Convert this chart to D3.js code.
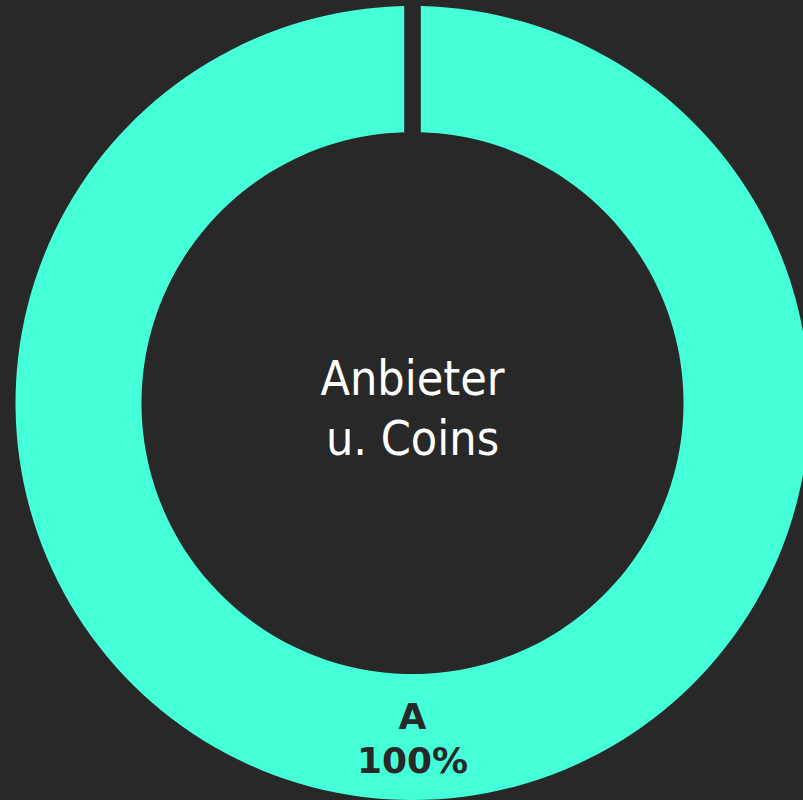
<!DOCTYPE html>
<html>
<head>
<meta charset="utf-8">
<script src="https://cdn.jsdelivr.net/npm/d3@7/dist/d3.min.js"></script>
<style>
  html, body { margin: 0; padding: 0; background: #282828; overflow: hidden; }
  svg { display: block; }
</style>
</head>
<body>
<svg id="chart" width="803" height="800"></svg>
<script>
// Segment data
const categories = ["A"];
const values = [100];
const centerLines = ["Anbieter", "u. Coins"];

const width = 803, height = 800;
const cx = 412.5, cy = 403;
const outerR = 397, innerR = 271;
const ringColor = "#45ffd9";
const bg = "#282828";

const svg = d3.select("#chart");
svg.append("rect").attr("width", width).attr("height", height).attr("fill", bg);

const g = svg.append("g").attr("transform", `translate(${cx},${cy})`);

const data = categories.map((c, i) => ({ name: c, value: values[i] }));
const total = d3.sum(values);

// Pie with a fixed-width gap between slice ends
const gapHalf = 8.3;
const padRadius = outerR;
const pie = d3.pie().value(d => d.value).sort(null)
  .padAngle(2 * Math.asin(gapHalf / padRadius));

const arc = d3.arc().innerRadius(innerR).outerRadius(outerR).padRadius(padRadius);

const arcs = pie(data);

// Shave a hair off the end so a lone full slice still gets its padding gap
g.selectAll("path.slice")
  .data(arcs)
  .join("path")
  .attr("class", "slice")
  .attr("d", d => arc({ ...d, endAngle: d.endAngle - 1e-6 }))
  .attr("fill", ringColor);

// Slice labels at the ring midpoint of each slice
const fmt = d3.format(".0f");
const labels = g.selectAll("text.lbl")
  .data(arcs)
  .join("text")
  .attr("class", "lbl")
  .attr("text-anchor", "middle")
  .attr("font-family", "Tahoma, 'DejaVu Sans', sans-serif")
  .attr("font-weight", "bold")
  .attr("font-size", 36)
  .attr("fill", bg)
  .attr("transform", d => {
    const mid = (d.startAngle + d.endAngle) / 2;
    const r = (innerR + outerR) / 2;
    return `translate(${r * Math.sin(mid)},${-r * Math.cos(mid)})`;
  });
labels.append("tspan").attr("x", 0).attr("y", -8).text(d => d.data.name);
labels.append("tspan").attr("x", 0).attr("y", 36).text(d => fmt(d.data.value / total * 100) + "%");

// Center title
const title = g.append("text")
  .attr("text-anchor", "middle")
  .attr("font-family", "Tahoma, 'DejaVu Sans Condensed', 'DejaVu Sans', sans-serif")
  .attr("font-size", 48)
  .attr("fill", "#ffffff");
centerLines.forEach((t, i) => {
  title.append("tspan").attr("x", 0).attr("y", -8 + i * 60).text(t);
});
</script>
</body>
</html>
